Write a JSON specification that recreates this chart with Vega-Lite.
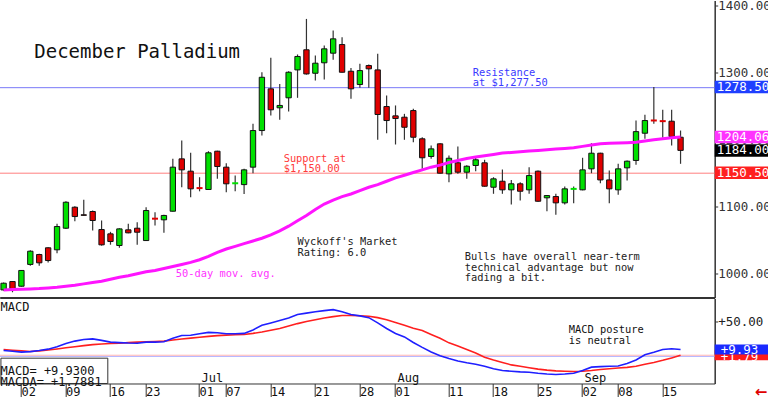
{
  "$schema": "https://vega.github.io/schema/vega-lite/v6.json",
  "padding": {"left": -3.3, "top": -1.5, "right": 0, "bottom": 0},
  "spacing": 1,
  "bounds": "flush",
  "background": "white",
  "config": {"view": {"stroke": null}, "font": "DejaVu Sans Mono"},
  "datasets": {
    "px": [
      {"d":"2025-05-29","o":976,"h":987,"l":975,"c":986,"ma":976,"m":8.6,"s":10},
      {"d":"2025-05-30","o":988.5,"h":989,"l":972.5,"c":978,"ma":976.5,"m":7.5,"s":9},
      {"d":"2025-06-02","o":981.5,"h":1005.5,"l":981,"c":1005,"ma":977,"m":6.2,"s":8},
      {"d":"2025-06-03","o":1014,"h":1035,"l":1012,"c":1033.7,"ma":977.5,"m":7,"s":7.1},
      {"d":"2025-06-04","o":1028.8,"h":1030,"l":1012,"c":1016.4,"ma":978,"m":8.6,"s":8},
      {"d":"2025-06-05","o":1038.8,"h":1039.7,"l":1017,"c":1019.8,"ma":979,"m":10.5,"s":9.3},
      {"d":"2025-06-06","o":1035.8,"h":1074.5,"l":1030.7,"c":1070.5,"ma":980,"m":14,"s":10.8},
      {"d":"2025-06-09","o":1068,"h":1108,"l":1067,"c":1106.7,"ma":981.5,"m":18.5,"s":12.4},
      {"d":"2025-06-10","o":1099.3,"h":1100.8,"l":1078.4,"c":1085.4,"ma":983,"m":22,"s":14},
      {"d":"2025-06-11","o":1088,"h":1110.3,"l":1086.9,"c":1087.2,"ma":985,"m":24.3,"s":15.5},
      {"d":"2025-06-12","o":1092.9,"h":1094.4,"l":1064.5,"c":1079.5,"ma":987,"m":25.2,"s":17},
      {"d":"2025-06-13","o":1066,"h":1079.5,"l":1042,"c":1043.2,"ma":989,"m":23,"s":17.8},
      {"d":"2025-06-16","o":1059.6,"h":1062.6,"l":1043.4,"c":1048.2,"ma":992,"m":20.5,"s":18.5},
      {"d":"2025-06-17","o":1042.2,"h":1068,"l":1038.8,"c":1067,"ma":995,"m":19.8,"s":19},
      {"d":"2025-06-18","o":1065.6,"h":1074.5,"l":1060.5,"c":1061.1,"ma":997,"m":19.2,"s":19.8},
      {"d":"2025-06-20","o":1068,"h":1077,"l":1043.2,"c":1062,"ma":1000,"m":19,"s":20.5},
      {"d":"2025-06-23","o":1049.6,"h":1099.3,"l":1049,"c":1094.4,"ma":1003,"m":20.5,"s":21},
      {"d":"2025-06-24","o":1082.2,"h":1091.8,"l":1072,"c":1082,"ma":1005,"m":20.5,"s":21.5},
      {"d":"2025-06-25","o":1080.5,"h":1088,"l":1061.1,"c":1087,"ma":1008,"m":21,"s":22},
      {"d":"2025-06-26","o":1093.3,"h":1171.4,"l":1093,"c":1159,"ma":1011,"m":26,"s":23.5},
      {"d":"2025-06-27","o":1171.4,"h":1198.7,"l":1129,"c":1155,"ma":1014,"m":30,"s":25},
      {"d":"2025-06-30","o":1153,"h":1180.4,"l":1114.2,"c":1126.7,"ma":1017,"m":30.3,"s":26.3},
      {"d":"2025-07-01","o":1127.8,"h":1144,"l":1123,"c":1127.6,"ma":1021,"m":32.5,"s":27.6},
      {"d":"2025-07-02","o":1125.7,"h":1182.8,"l":1125,"c":1180.4,"ma":1026,"m":34.5,"s":28.8},
      {"d":"2025-07-03","o":1182.8,"h":1183.5,"l":1141.6,"c":1160,"ma":1032,"m":34,"s":29.8},
      {"d":"2025-07-07","o":1159,"h":1165,"l":1121.6,"c":1134.2,"ma":1037,"m":32.5,"s":30.5},
      {"d":"2025-07-08","o":1135,"h":1146.5,"l":1123,"c":1135.2,"ma":1041,"m":32.4,"s":31},
      {"d":"2025-07-09","o":1133,"h":1156.5,"l":1119,"c":1155,"ma":1045,"m":33,"s":31.4},
      {"d":"2025-07-10","o":1159,"h":1223.6,"l":1150,"c":1213.6,"ma":1049,"m":38,"s":33},
      {"d":"2025-07-11","o":1213.6,"h":1300.5,"l":1206.2,"c":1293,"ma":1053,"m":44.5,"s":35},
      {"d":"2025-07-14","o":1275.8,"h":1322,"l":1236,"c":1244.5,"ma":1058,"m":48,"s":37.5},
      {"d":"2025-07-15","o":1247.5,"h":1283,"l":1229.6,"c":1251,"ma":1064,"m":51.4,"s":40},
      {"d":"2025-07-16","o":1262.4,"h":1302,"l":1242,"c":1300.5,"ma":1071,"m":55,"s":43.5},
      {"d":"2025-07-17","o":1304,"h":1327,"l":1262.4,"c":1324,"ma":1079,"m":60,"s":47},
      {"d":"2025-07-18","o":1334,"h":1380,"l":1297,"c":1298,"ma":1087,"m":62,"s":50},
      {"d":"2025-07-21","o":1299,"h":1325.4,"l":1288.2,"c":1314,"ma":1096,"m":64,"s":52.5},
      {"d":"2025-07-22","o":1314.6,"h":1340.3,"l":1289.6,"c":1335.4,"ma":1104,"m":65.5,"s":55},
      {"d":"2025-07-23","o":1328.9,"h":1362.7,"l":1319,"c":1350.3,"ma":1110,"m":67,"s":57},
      {"d":"2025-07-24","o":1341.8,"h":1352.7,"l":1300,"c":1300.5,"ma":1115,"m":64,"s":58.5},
      {"d":"2025-07-25","o":1302,"h":1307,"l":1261,"c":1275.8,"ma":1119,"m":60,"s":58.6},
      {"d":"2025-07-28","o":1282.2,"h":1313,"l":1277.3,"c":1303,"ma":1124,"m":58,"s":58.3},
      {"d":"2025-07-29","o":1310.5,"h":1312,"l":1277.3,"c":1305.6,"ma":1129,"m":55.5,"s":57.5},
      {"d":"2025-07-30","o":1304,"h":1328,"l":1199.8,"c":1237.5,"ma":1133,"m":48,"s":55.5},
      {"d":"2025-07-31","o":1249.4,"h":1265.8,"l":1209.6,"c":1228.5,"ma":1138,"m":40,"s":52.5},
      {"d":"2025-08-01","o":1235.5,"h":1251,"l":1192.8,"c":1231.5,"ma":1143,"m":33,"s":48.5},
      {"d":"2025-08-04","o":1233.5,"h":1238.5,"l":1199.8,"c":1218.5,"ma":1147,"m":28,"s":44.5},
      {"d":"2025-08-05","o":1243.4,"h":1246,"l":1196.2,"c":1203.6,"ma":1151,"m":20,"s":40.5},
      {"d":"2025-08-06","o":1201.3,"h":1203.6,"l":1156.5,"c":1173,"ma":1155,"m":13,"s":37},
      {"d":"2025-08-07","o":1174.9,"h":1191.3,"l":1171.4,"c":1186.3,"ma":1159,"m":6.5,"s":31.5},
      {"d":"2025-08-08","o":1193.8,"h":1194.5,"l":1149.5,"c":1150,"ma":1162,"m":1,"s":26},
      {"d":"2025-08-11","o":1149,"h":1176.4,"l":1136.6,"c":1172.3,"ma":1166,"m":-3,"s":19.5},
      {"d":"2025-08-12","o":1165.5,"h":1189.8,"l":1149,"c":1151.5,"ma":1169,"m":-6.5,"s":15},
      {"d":"2025-08-13","o":1151.5,"h":1162,"l":1141.6,"c":1160.4,"ma":1172,"m":-9,"s":10},
      {"d":"2025-08-14","o":1161.5,"h":1173.8,"l":1153,"c":1170,"ma":1174,"m":-11,"s":5},
      {"d":"2025-08-15","o":1165.5,"h":1170,"l":1130,"c":1130.6,"ma":1176,"m":-14,"s":-1},
      {"d":"2025-08-18","o":1129.1,"h":1144,"l":1119.3,"c":1141.6,"ma":1178,"m":-17.5,"s":-5},
      {"d":"2025-08-19","o":1138,"h":1155.5,"l":1119.3,"c":1125.2,"ma":1180,"m":-20,"s":-8.5},
      {"d":"2025-08-20","o":1125.2,"h":1140,"l":1103.3,"c":1134.2,"ma":1181,"m":-21,"s":-12},
      {"d":"2025-08-21","o":1134.2,"h":1136.6,"l":1109.3,"c":1123.1,"ma":1182,"m":-22,"s":-14},
      {"d":"2025-08-22","o":1125.2,"h":1159,"l":1119.3,"c":1146.5,"ma":1183,"m":-22.4,"s":-16},
      {"d":"2025-08-25","o":1153,"h":1154,"l":1107.5,"c":1108.2,"ma":1184,"m":-24,"s":-18},
      {"d":"2025-08-26","o":1113.3,"h":1117.5,"l":1093.3,"c":1116.7,"ma":1185,"m":-25,"s":-19.5},
      {"d":"2025-08-27","o":1115.2,"h":1119.3,"l":1088,"c":1105.8,"ma":1186,"m":-25.7,"s":-20.5},
      {"d":"2025-08-28","o":1105.8,"h":1130,"l":1103.3,"c":1126.7,"ma":1187,"m":-25,"s":-21},
      {"d":"2025-08-29","o":1126.6,"h":1130,"l":1105.2,"c":1126.8,"ma":1188,"m":-24,"s":-21.4},
      {"d":"2025-09-02","o":1125.2,"h":1173,"l":1124.5,"c":1155,"ma":1190,"m":-20,"s":-21},
      {"d":"2025-09-03","o":1156.5,"h":1194.7,"l":1150,"c":1179.8,"ma":1192,"m":-15.2,"s":-20},
      {"d":"2025-09-04","o":1179.8,"h":1180.5,"l":1135,"c":1140,"ma":1194,"m":-14.5,"s":-18.6},
      {"d":"2025-09-05","o":1140,"h":1154,"l":1105.2,"c":1126.7,"ma":1194.5,"m":-14,"s":-17.5},
      {"d":"2025-09-08","o":1125.2,"h":1164,"l":1117.8,"c":1156.5,"ma":1195,"m":-13.5,"s":-16.5},
      {"d":"2025-09-09","o":1158,"h":1169,"l":1139,"c":1167.9,"ma":1195.5,"m":-10,"s":-15.5},
      {"d":"2025-09-10","o":1169,"h":1228.5,"l":1162.5,"c":1212,"ma":1196,"m":-5,"s":-14},
      {"d":"2025-09-11","o":1209.6,"h":1237,"l":1201.3,"c":1228.5,"ma":1198,"m":2.4,"s":-11},
      {"d":"2025-09-12","o":1228.6,"h":1278.5,"l":1223.6,"c":1228.4,"ma":1200,"m":6,"s":-8.5},
      {"d":"2025-09-15","o":1227.6,"h":1244.5,"l":1202.7,"c":1227.4,"ma":1201.5,"m":10,"s":-5.5},
      {"d":"2025-09-16","o":1227.5,"h":1244.5,"l":1191.3,"c":1204.7,"ma":1203,"m":11,"s":-2},
      {"d":"2025-09-17","o":1203.6,"h":1213.6,"l":1164,"c":1184,"ma":1204.06,"m":9.93,"s":1.79}
    ]
  },
  "vconcat": [
    {
      "width": 715,
      "height": 297,
      "layer": [
        {
          "data": {"values": [{"p": 1277.5}]},
          "mark": {"type": "rule", "color": "#7878f8", "strokeWidth": 1},
          "encoding": {
            "y": {"field": "p", "type": "quantitative",
              "scale": {"domain": [964.7, 1407.45], "nice": false, "zero": false},
              "axis": {"orient": "right", "values": [1000,1050,1100,1150,1200,1250,1300,1350,1400], "format": ".2f", "title": null, "grid": false,
                "labelFont": "DejaVu Sans Mono", "labelFontSize": 12.5, "labelColor": "#333", "labelPadding": 0,
                "tickSize": 3, "tickColor": "#333", "domainColor": "#333", "domainWidth": 1.5, "labelBound": false, "labelFlush": false, "labelOverlap": false}}
          }
        },
        {
          "data": {"values": [{"p": 1150}]},
          "mark": {"type": "rule", "color": "#ff8080", "strokeWidth": 1},
          "encoding": {"y": {"field": "p", "type": "quantitative"}}
        },
        {
          "data": {"name": "px"},
          "mark": {"type": "rule", "color": "#333", "strokeWidth": 1.2},
          "encoding": {
            "x": {"field": "d", "type": "ordinal",
              "axis": {"orient": "bottom", "title": null, "grid": false, "labels": false, "ticks": false, "domain": true, "domainColor": "#333", "domainWidth": 2},
              "scale": {"type": "band", "paddingInner": 0.4, "paddingOuter": 0.335, "align": 0.205,
                "domain": ["2025-05-29","2025-05-30","2025-06-02","2025-06-03","2025-06-04","2025-06-05","2025-06-06","2025-06-09","2025-06-10","2025-06-11","2025-06-12","2025-06-13","2025-06-16","2025-06-17","2025-06-18","2025-06-20","2025-06-23","2025-06-24","2025-06-25","2025-06-26","2025-06-27","2025-06-30","2025-07-01","2025-07-02","2025-07-03","2025-07-07","2025-07-08","2025-07-09","2025-07-10","2025-07-11","2025-07-14","2025-07-15","2025-07-16","2025-07-17","2025-07-18","2025-07-21","2025-07-22","2025-07-23","2025-07-24","2025-07-25","2025-07-28","2025-07-29","2025-07-30","2025-07-31","2025-08-01","2025-08-04","2025-08-05","2025-08-06","2025-08-07","2025-08-08","2025-08-11","2025-08-12","2025-08-13","2025-08-14","2025-08-15","2025-08-18","2025-08-19","2025-08-20","2025-08-21","2025-08-22","2025-08-25","2025-08-26","2025-08-27","2025-08-28","2025-08-29","2025-09-02","2025-09-03","2025-09-04","2025-09-05","2025-09-08","2025-09-09","2025-09-10","2025-09-11","2025-09-12","2025-09-15","2025-09-16","2025-09-17","2025-09-18","2025-09-19","2025-09-22"]}},
            "y": {"field": "l", "type": "quantitative"},
            "y2": {"field": "h"}
          }
        },
        {
          "data": {"name": "px"},
          "transform": [{"filter": "abs(datum.o - datum.c) >= 0.5"}],
          "mark": {"type": "bar", "stroke": "#111", "strokeWidth": 1},
          "encoding": {
            "x": {"field": "d", "type": "ordinal"},
            "y": {"field": "o", "type": "quantitative"},
            "y2": {"field": "c"},
            "color": {"condition": {"test": "datum.c >= datum.o", "value": "#00e000"}, "value": "#e00000"}
          }
        },
        {
          "data": {"name": "px"},
          "transform": [{"filter": "abs(datum.o - datum.c) < 0.5"}],
          "mark": {"type": "tick", "orient": "horizontal", "thickness": 2, "size": 6, "opacity": 1},
          "encoding": {
            "x": {"field": "d", "type": "ordinal"},
            "y": {"field": "o", "type": "quantitative"},
            "color": {"condition": {"test": "datum.c >= datum.o", "value": "#00e000"}, "value": "#e00000"}
          }
        },
        {
          "data": {"name": "px"},
          "mark": {"type": "line", "color": "#ff14ff", "strokeWidth": 3},
          "encoding": {
            "x": {"field": "d", "type": "ordinal"},
            "y": {"field": "ma", "type": "quantitative"}
          }
        },
        {
          "data": {"values": [{"d": "2025-06-03", "p": 1331.4, "t": "December Palladium"}]},
          "mark": {"type": "text", "font": "DejaVu Sans Mono", "fontSize": 19, "align": "left", "baseline": "middle", "dx": 4, "color": "#111"},
          "encoding": {"x": {"field": "d", "type": "ordinal"}, "y": {"field": "p", "type": "quantitative"}, "text": {"field": "t"}}
        },
        {
          "data": {"values": [{"d": "2025-08-14", "p": 1300, "t": "Resistance\nat $1,277.50"}]},
          "mark": {"type": "text", "font": "DejaVu Sans Mono", "fontSize": 10.4, "lineHeight": 10.5, "lineBreak": "\n", "align": "left", "baseline": "middle", "dx": -3, "color": "#3a3aff"},
          "encoding": {"x": {"field": "d", "type": "ordinal"}, "y": {"field": "p", "type": "quantitative"}, "text": {"field": "t"}}
        },
        {
          "data": {"values": [{"d": "2025-07-16", "p": 1171.4, "t": "Support at\n$1,150.00"}]},
          "mark": {"type": "text", "font": "DejaVu Sans Mono", "fontSize": 10.4, "lineHeight": 10.5, "lineBreak": "\n", "align": "left", "baseline": "middle", "dx": -5, "color": "#ff3a3a"},
          "encoding": {"x": {"field": "d", "type": "ordinal"}, "y": {"field": "p", "type": "quantitative"}, "text": {"field": "t"}}
        },
        {
          "data": {"values": [{"d": "2025-07-17", "p": 1046.7, "t": "Wyckoff's Market\nRating: 6.0"}]},
          "mark": {"type": "text", "font": "DejaVu Sans Mono", "fontSize": 10.4, "lineHeight": 10.5, "lineBreak": "\n", "align": "left", "baseline": "middle", "dx": 0, "color": "#222"},
          "encoding": {"x": {"field": "d", "type": "ordinal"}, "y": {"field": "p", "type": "quantitative"}, "text": {"field": "t"}}
        },
        {
          "data": {"values": [{"d": "2025-06-26", "p": 1000.4, "t": "50-day mov. avg."}]},
          "mark": {"type": "text", "font": "DejaVu Sans Mono", "fontSize": 10.4, "align": "left", "baseline": "middle", "dx": 3, "color": "#ff33ff"},
          "encoding": {"x": {"field": "d", "type": "ordinal"}, "y": {"field": "p", "type": "quantitative"}, "text": {"field": "t"}}
        },
        {
          "data": {"values": [{"d": "2025-08-13", "p": 1025, "t": "Bulls have overall near-term\ntechnical advantage but now\nfading a bit."}]},
          "mark": {"type": "text", "font": "DejaVu Sans Mono", "fontSize": 10.4, "lineHeight": 10.5, "lineBreak": "\n", "align": "left", "baseline": "middle", "dx": -2, "color": "#222"},
          "encoding": {"x": {"field": "d", "type": "ordinal"}, "y": {"field": "p", "type": "quantitative"}, "text": {"field": "t"}}
        },
        {
          "data": {"values": [
            {"v": 1278.5, "t": "1278.50", "k": "res"},
            {"v": 1204.06, "t": "1204.06", "k": "ma"},
            {"v": 1184, "t": "1184.00", "k": "last"},
            {"v": 1150.5, "t": "1150.50", "k": "sup"}
          ]},
          "layer": [
            {
              "mark": {"type": "tick", "orient": "horizontal", "thickness": 12.5, "size": 56, "opacity": 1, "clip": false},
              "encoding": {
                "x": {"value": {"expr": "width + 28"}},
                "y": {"field": "v", "type": "quantitative"},
                "color": {"field": "k", "type": "nominal", "legend": null,
                  "scale": {"domain": ["res", "ma", "last", "sup"], "range": ["#1f3fff", "#ff33ff", "#000000", "#ff2020"]}}
              }
            },
            {
              "mark": {"type": "text", "font": "DejaVu Sans Mono", "fontSize": 12.5, "align": "left", "baseline": "middle", "dx": 2, "color": "white"},
              "encoding": {
                "x": {"value": {"expr": "width"}},
                "y": {"field": "v", "type": "quantitative"},
                "text": {"field": "t"}
              }
            }
          ]
        }
      ]
    },
    {
      "width": 715,
      "height": 85,
      "layer": [
        {
          "data": {"values": [{"v": 1.79}]},
          "mark": {"type": "rule", "color": "#ffb4b4", "strokeWidth": 1},
          "encoding": {
            "y": {"field": "v", "type": "quantitative",
              "scale": {"domain": [-38.57, 82.86], "nice": false, "zero": false},
              "axis": {"orient": "right", "values": [50], "format": "+.2f", "title": null, "grid": false,
                "labelFont": "DejaVu Sans Mono", "labelFontSize": 12.5, "labelColor": "#222", "labelPadding": 0,
                "tickSize": 3, "tickColor": "#333", "domainColor": "#333", "domainWidth": 1.5, "labelBound": false, "labelFlush": false, "labelOverlap": false}}
          }
        },
        {
          "data": {"values": [{"v": 0}]},
          "mark": {"type": "rule", "color": "#b8b8ff", "strokeWidth": 1},
          "encoding": {"y": {"field": "v", "type": "quantitative"}}
        },
        {
          "data": {"name": "px"},
          "mark": {"type": "line", "color": "#ff1f1f", "strokeWidth": 1.6},
          "encoding": {
            "x": {"field": "d", "type": "ordinal",
              "scale": {"type": "band", "paddingInner": 0.4, "paddingOuter": 0.335, "align": 0.205,
                "domain": ["2025-05-29","2025-05-30","2025-06-02","2025-06-03","2025-06-04","2025-06-05","2025-06-06","2025-06-09","2025-06-10","2025-06-11","2025-06-12","2025-06-13","2025-06-16","2025-06-17","2025-06-18","2025-06-20","2025-06-23","2025-06-24","2025-06-25","2025-06-26","2025-06-27","2025-06-30","2025-07-01","2025-07-02","2025-07-03","2025-07-07","2025-07-08","2025-07-09","2025-07-10","2025-07-11","2025-07-14","2025-07-15","2025-07-16","2025-07-17","2025-07-18","2025-07-21","2025-07-22","2025-07-23","2025-07-24","2025-07-25","2025-07-28","2025-07-29","2025-07-30","2025-07-31","2025-08-01","2025-08-04","2025-08-05","2025-08-06","2025-08-07","2025-08-08","2025-08-11","2025-08-12","2025-08-13","2025-08-14","2025-08-15","2025-08-18","2025-08-19","2025-08-20","2025-08-21","2025-08-22","2025-08-25","2025-08-26","2025-08-27","2025-08-28","2025-08-29","2025-09-02","2025-09-03","2025-09-04","2025-09-05","2025-09-08","2025-09-09","2025-09-10","2025-09-11","2025-09-12","2025-09-15","2025-09-16","2025-09-17","2025-09-18","2025-09-19","2025-09-22"]},
              "axis": {"orient": "bottom", "values": ["2025-06-02","2025-06-09","2025-06-16","2025-06-23","2025-07-01","2025-07-07","2025-07-14","2025-07-21","2025-07-28","2025-08-01","2025-08-11","2025-08-18","2025-08-25","2025-09-02","2025-09-08","2025-09-15"],
                "labelExpr": "slice(datum.value, 8)", "title": null, "grid": false, "domain": true, "domainColor": "#333", "domainWidth": 1,
                "ticks": true, "tickSize": 14, "tickColor": "#333", "tickWidth": 1, "bandPosition": 0.5,
                "labelAlign": "left", "labelBaseline": "middle", "labelPadding": -6, "labelDx": 2, "labelAngle": 0,
                "labelFont": "DejaVu Sans Mono", "labelFontSize": 12, "labelColor": "#111", "labelOverlap": false, "labelBound": false, "labelFlush": false}},
            "y": {"field": "s", "type": "quantitative"}
          }
        },
        {
          "data": {"name": "px"},
          "mark": {"type": "line", "color": "#1f1fff", "strokeWidth": 1.6},
          "encoding": {
            "x": {"field": "d", "type": "ordinal"},
            "y": {"field": "m", "type": "quantitative"}
          }
        },
        {
          "data": {"values": [{"d": "2025-05-29", "v": 70.4, "t": "MACD"}]},
          "mark": {"type": "text", "font": "DejaVu Sans Mono", "fontSize": 12, "align": "left", "baseline": "middle", "dx": -3, "color": "#111"},
          "encoding": {"x": {"field": "d", "type": "ordinal"}, "y": {"field": "v", "type": "quantitative"}, "text": {"field": "t"}}
        },
        {
          "data": {"values": [{"d": "2025-08-28", "v": 37.6, "t": "MACD posture\nis neutral"}]},
          "mark": {"type": "text", "font": "DejaVu Sans Mono", "fontSize": 10.4, "lineHeight": 10.5, "lineBreak": "\n", "align": "left", "baseline": "middle", "dx": 4, "color": "#111"},
          "encoding": {"x": {"field": "d", "type": "ordinal"}, "y": {"field": "v", "type": "quantitative"}, "text": {"field": "t"}}
        },
        {
          "data": {"values": [{"d": "2025-07-01", "t": "Jul"}, {"d": "2025-08-01", "t": "Aug"}, {"d": "2025-09-02", "t": "Sep"}]},
          "mark": {"type": "text", "font": "DejaVu Sans Mono", "fontSize": 12, "align": "left", "baseline": "middle", "dx": 2, "color": "#111"},
          "encoding": {"x": {"field": "d", "type": "ordinal"}, "y": {"datum": -31, "type": "quantitative"}, "text": {"field": "t"}}
        },
        {
          "data": {"values": [{"a": "2025-05-29", "b": "2025-06-16", "top": -2.4, "bot": -38.57}]},
          "mark": {"type": "rect", "fill": "white", "stroke": "#333", "strokeWidth": 1},
          "encoding": {
            "x": {"field": "a", "type": "ordinal", "bandPosition": 0},
            "x2": {"field": "b", "bandPosition": 0},
            "y": {"field": "top", "type": "quantitative"},
            "y2": {"field": "bot"}
          }
        },
        {
          "data": {"values": [{"d": "2025-05-29", "v": -20.7, "t": "MACD=  +9.9300\nMACDA= +1.7881"}]},
          "mark": {"type": "text", "font": "DejaVu Sans Mono", "fontSize": 12, "lineHeight": 11, "lineBreak": "\n", "align": "left", "baseline": "middle", "dx": -3, "color": "#111"},
          "encoding": {"x": {"field": "d", "type": "ordinal"}, "y": {"field": "v", "type": "quantitative"}, "text": {"field": "t"}}
        },
        {
          "data": {"values": [{"v": 1.79, "t": "+1.79"}]},
          "layer": [
            {
              "mark": {"type": "tick", "orient": "horizontal", "thickness": 10, "size": 56, "opacity": 1, "clip": false, "color": "#ff1a1a"},
              "encoding": {"x": {"value": {"expr": "width + 28"}}, "y": {"field": "v", "type": "quantitative"}}
            },
            {
              "mark": {"type": "text", "font": "DejaVu Sans Mono", "fontSize": 12.5, "align": "left", "baseline": "middle", "dx": 6, "dy": 2, "color": "white"},
              "encoding": {"x": {"value": {"expr": "width"}}, "y": {"field": "v", "type": "quantitative"}, "text": {"field": "t"}}
            }
          ]
        },
        {
          "data": {"values": [{"v": 9.93, "t": "+9.93"}]},
          "layer": [
            {
              "mark": {"type": "tick", "orient": "horizontal", "thickness": 10, "size": 56, "opacity": 1, "clip": false, "color": "#1a2aff"},
              "encoding": {"x": {"value": {"expr": "width + 28"}}, "y": {"field": "v", "type": "quantitative"}}
            },
            {
              "mark": {"type": "text", "font": "DejaVu Sans Mono", "fontSize": 12.5, "align": "left", "baseline": "middle", "dx": 6, "color": "white"},
              "encoding": {"x": {"value": {"expr": "width"}}, "y": {"field": "v", "type": "quantitative"}, "text": {"field": "t"}}
            }
          ]
        },
        {
          "data": {"values": [{"v": -38.57, "t": "←"}]},
          "mark": {"type": "text", "font": "DejaVu Sans", "fontSize": 15, "fontWeight": "bold", "align": "left", "baseline": "middle", "dx": 40, "dy": 9, "color": "#e00000"},
          "encoding": {"x": {"value": {"expr": "width"}}, "y": {"field": "v", "type": "quantitative"}, "text": {"field": "t"}}
        }
      ]
    }
  ]
}
